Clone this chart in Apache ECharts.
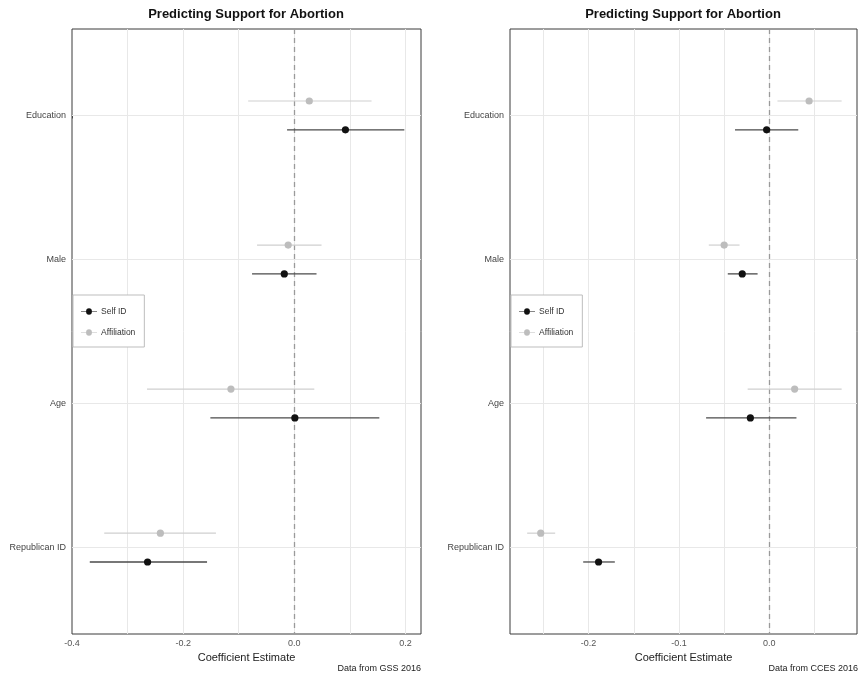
<!DOCTYPE html>
<html><head><meta charset="utf-8">
<script src="https://cdn.jsdelivr.net/npm/echarts@6/dist/echarts.min.js"></script>
<style>html,body{margin:0;padding:0;background:#fff}#c{width:860px;height:677px}</style>
</head><body><div id="c"></div><script>
const categories = ['Education', 'Male', 'Age', 'Republican ID'];
// GSS 2016 (left panel)
const gssSelf   = [0.092, -0.018, 0.001, -0.264];
const gssSelfLo = [-0.013, -0.076, -0.151, -0.368];
const gssSelfHi = [0.198, 0.040, 0.153, -0.157];
const gssAff    = [0.027, -0.011, -0.114, -0.241];
const gssAffLo  = [-0.083, -0.067, -0.265, -0.342];
const gssAffHi  = [0.139, 0.049, 0.036, -0.141];
// CCES 2016 (right panel)
const ccesSelf   = [-0.003, -0.030, -0.021, -0.189];
const ccesSelfLo = [-0.038, -0.046, -0.070, -0.206];
const ccesSelfHi = [0.032, -0.013, 0.030, -0.171];
const ccesAff    = [0.044, -0.050, 0.028, -0.253];
const ccesAffLo  = [0.009, -0.067, -0.024, -0.268];
const ccesAffHi  = [0.080, -0.033, 0.080, -0.237];
// ticks and grid lines
const gssTicks = [-0.4, -0.2, 0, 0.2];
const ccesTicks = [-0.2, -0.1, 0];
const gssGrid = [-0.3, -0.2, -0.1, 0, 0.1, 0.2];
const ccesGrid = [-0.25, -0.2, -0.15, -0.1, -0.05, 0, 0.05];
const catTicks = [0, 1, 2, 3];

const FONT = 'Liberation Sans';
const DODGE = 0.1;

function rows(est, lo, hi, off) {
  return est.map((v, i) => [v, lo[i], hi[i], i + off]);
}
function makeRender(lineColor, lineWidth, pointColor) {
  return function (params, api) {
    const y = api.value(3);
    const p = api.coord([api.value(0), y]);
    const a = api.coord([api.value(1), y]);
    const b = api.coord([api.value(2), y]);
    return {
      type: 'group', children: [
        { type: 'line', shape: { x1: a[0], y1: a[1], x2: b[0], y2: b[1] }, style: { stroke: lineColor, lineWidth: lineWidth } },
        { type: 'circle', shape: { cx: p[0], cy: p[1], r: 3.6 }, style: { fill: pointColor } }
      ]
    };
  };
}
const gridLineStyle = { color: '#e8e8e8', width: 1, type: 'solid' };
function gridMarks(xs) {
  return {
    silent: true, symbol: ['none', 'none'], z: 1, label: { show: false },
    emphasis: { disabled: true }, lineStyle: gridLineStyle, animation: false,
    data: xs.map(v => ({ xAxis: v })).concat(catTicks.map(v => ({ yAxis: v })))
  };
}
const zeroMark = {
  silent: true, symbol: ['none', 'none'], z: 1.5, label: { show: false },
  emphasis: { disabled: true }, animation: false,
  lineStyle: { color: '#9a9a9a', width: 1.3, type: [5, 4] },
  data: [{ xAxis: 0 }]
};

function series(gi, self, selfLo, selfHi, aff, affLo, affHi, gridVals) {
  return [
    {
      name: 'Affiliation', type: 'custom', xAxisIndex: gi, yAxisIndex: gi,
      renderItem: makeRender('#cfcfcf', 1.2, '#bdbdbd'),
      itemStyle: { color: '#bdbdbd' },
      encode: { x: [0, 1, 2], y: 3 },
      data: rows(aff, affLo, affHi, -DODGE),
      markLine: gridMarks(gridVals), z: 2
    },
    {
      name: 'Self ID', type: 'custom', xAxisIndex: gi, yAxisIndex: gi,
      renderItem: makeRender('#4a4a4a', 1.3, '#111111'),
      itemStyle: { color: '#111111' },
      encode: { x: [0, 1, 2], y: 3 },
      data: rows(self, selfLo, selfHi, DODGE),
      markLine: zeroMark, z: 2
    }
  ];
}
function xAxis(gi, min, max, ticks) {
  return {
    type: 'value', gridIndex: gi, min: min, max: max,
    name: 'Coefficient Estimate', nameLocation: 'middle', nameGap: 17,
    nameTextStyle: { fontSize: 11, color: '#222', fontFamily: FONT },
    axisLine: { show: false }, splitLine: { show: false },
    axisTick: { show: true, customValues: ticks, length: 3, lineStyle: { color: '#444' } },
    axisLabel: { customValues: ticks, formatter: v => v.toFixed(1), fontSize: 9, color: '#555', margin: 5, fontFamily: FONT }
  };
}
function yAxis(gi) {
  return {
    type: 'value', gridIndex: gi, inverse: true, min: -0.6, max: 3.6,
    axisLine: { show: false }, splitLine: { show: false },
    axisTick: { show: true, customValues: catTicks, length: 3, lineStyle: { color: '#444' } },
    axisLabel: { customValues: catTicks, formatter: v => categories[Math.round(v)], fontSize: 9, color: '#444', margin: 6, fontFamily: FONT }
  };
}
const legendIcon = 'path://M0,9L7,9A4,4 0 0 1 15,9L22,9L22,10L15,10A4,4 0 0 1 7,10L0,10Z';
function legend(left) {
  return {
    left: left, top: 295, orient: 'vertical', selectedMode: false,
    backgroundColor: '#fff', borderColor: '#bdbdbd', borderWidth: 1,
    padding: [12, 9, 10, 8], itemGap: 12, itemWidth: 16, itemHeight: 8,
    textStyle: { fontSize: 8.5, color: '#333', fontFamily: FONT, padding: [0, 0, 0, -1] },
    data: [{ name: 'Self ID', icon: legendIcon }, { name: 'Affiliation', icon: legendIcon }]
  };
}

const chart = echarts.init(document.getElementById('c'), null, { renderer: 'canvas' });
chart.setOption({
  animation: false,
  backgroundColor: '#fff',
  title: [
    { text: 'Predicting Support for Abortion', left: 246, top: 8, textAlign: 'center', padding: 0,
      textStyle: { fontSize: 13, fontWeight: 'bold', color: '#111', fontFamily: FONT } },
    { text: 'Predicting Support for Abortion', left: 683, top: 8, textAlign: 'center', padding: 0,
      textStyle: { fontSize: 13, fontWeight: 'bold', color: '#111', fontFamily: FONT } },
    { text: 'Data from GSS 2016', left: 421, top: 664, textAlign: 'right', padding: 0,
      textStyle: { fontSize: 9, fontWeight: 'normal', color: '#222', fontFamily: FONT } },
    { text: 'Data from CCES 2016', left: 858, top: 664, textAlign: 'right', padding: 0,
      textStyle: { fontSize: 9, fontWeight: 'normal', color: '#222', fontFamily: FONT } }
  ],
  legend: [legend(73), legend(511)],
  grid: [
    { left: 72, right: 439, top: 29, bottom: 43, show: true, borderColor: '#3a3a3a', borderWidth: 1, backgroundColor: 'transparent' },
    { left: 510, right: 3, top: 29, bottom: 43, show: true, borderColor: '#3a3a3a', borderWidth: 1, backgroundColor: 'transparent' }
  ],
  xAxis: [xAxis(0, -0.4, 0.228, gssTicks), xAxis(1, -0.287, 0.097, ccesTicks)],
  yAxis: [yAxis(0), yAxis(1)],
  series: series(0, gssSelf, gssSelfLo, gssSelfHi, gssAff, gssAffLo, gssAffHi, gssGrid)
    .concat(series(1, ccesSelf, ccesSelfLo, ccesSelfHi, ccesAff, ccesAffLo, ccesAffHi, ccesGrid))
});
</script></body></html>
